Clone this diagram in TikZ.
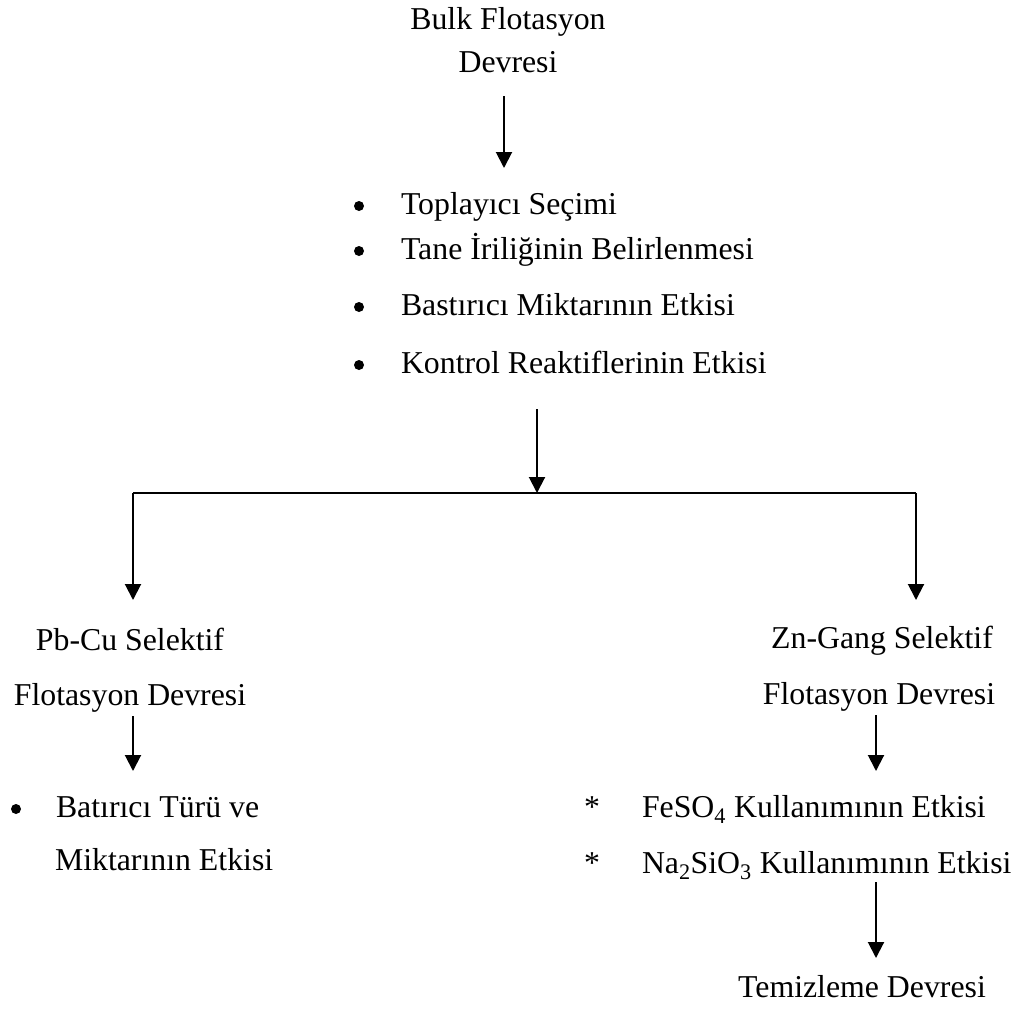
\documentclass[tikz,border=0pt]{standalone}
\usepackage{fontspec}
\setmainfont{Liberation Serif}
\usetikzlibrary{arrows.meta}
\begin{document}
\begin{tikzpicture}[x=1pt,y=-1pt,
  txt/.style={inner sep=0pt,outer sep=0pt,font=\fontsize{31.8}{38}\selectfont},
  lbl/.style={txt,anchor=base},
  lft/.style={txt,anchor=base west},
  dot/.style={circle,fill=black,inner sep=0pt,minimum size=10pt},
  conn/.style={line width=2pt,draw=black},
  arr/.style={conn,-{Triangle[width=16pt,length=16pt]}}]
\useasboundingbox (0,0) rectangle (1022,1009);
% top
\node[lbl] (bulk1) at (508,29) {Bulk Flotasyon};
\node[lbl] (bulk2) at (508,72) {Devresi};
% list
\node[dot] (b1) at (359,206) {};
\node[lft] (t1) at (401,214) {Toplayıcı Seçimi};
\node[dot] (b2) at (359,251) {};
\node[lft] (t2) at (401,259) {Tane İriliğinin Belirlenmesi};
\node[dot] (b3) at (359,307) {};
\node[lft] (t3) at (401,315) {Bastırıcı Miktarının Etkisi};
\node[dot] (b4) at (359,365) {};
\node[lft] (t4) at (401,373) {Kontrol Reaktiflerinin Etkisi};
% left branch
\node[lbl] (pb1) at (130,650) {Pb-Cu Selektif};
\node[lbl] (pb2) at (130,705) {Flotasyon Devresi};
\node[dot] (b5) at (16,809) {};
\node[lft] (t5) at (56,817) {Batırıcı Türü ve};
\node[lft] (t6) at (55,870) {Miktarının Etkisi};
% right branch
\node[lbl] (zn1) at (882,648) {Zn-Gang Selektif};
\node[lbl] (zn2) at (879,704) {Flotasyon Devresi};
\node[lbl] (s1) at (592,817) {*};
\node[lft] (t7) at (642,817) {FeSO\textsubscript{4} Kullanımının Etkisi};
\node[lbl] (s2) at (592,873) {*};
\node[lft] (t8) at (642,873) {Na\textsubscript{2}SiO\textsubscript{3} Kullanımının Etkisi};
\node[lbl] (tem) at (862,997) {Temizleme Devresi};
% connector points
\coordinate (a1s) at (504,96);
\coordinate (a1e) at (504,168);
\coordinate (a2s) at (537,409);
\coordinate (a2e) at (537,493);
\coordinate (hl) at (133,493);
\coordinate (hr) at (916,493);
\coordinate (le) at (133,600);
\coordinate (re) at (916,600);
\coordinate (a3s) at (133,716);
\coordinate (a3e) at (133,771);
\coordinate (a4s) at (876,715);
\coordinate (a4e) at (876,771);
\coordinate (a5s) at (876,882);
\coordinate (a5e) at (876,958);
% connectors
\draw[arr] (a1s) -- (a1e);
\draw[arr] (a2s) -- (a2e);
\draw[conn] (hl) -- (hr);
\draw[arr] (hl) -- (le);
\draw[arr] (hr) -- (re);
\draw[arr] (a3s) -- (a3e);
\draw[arr] (a4s) -- (a4e);
\draw[arr] (a5s) -- (a5e);
\end{tikzpicture}
\end{document}
